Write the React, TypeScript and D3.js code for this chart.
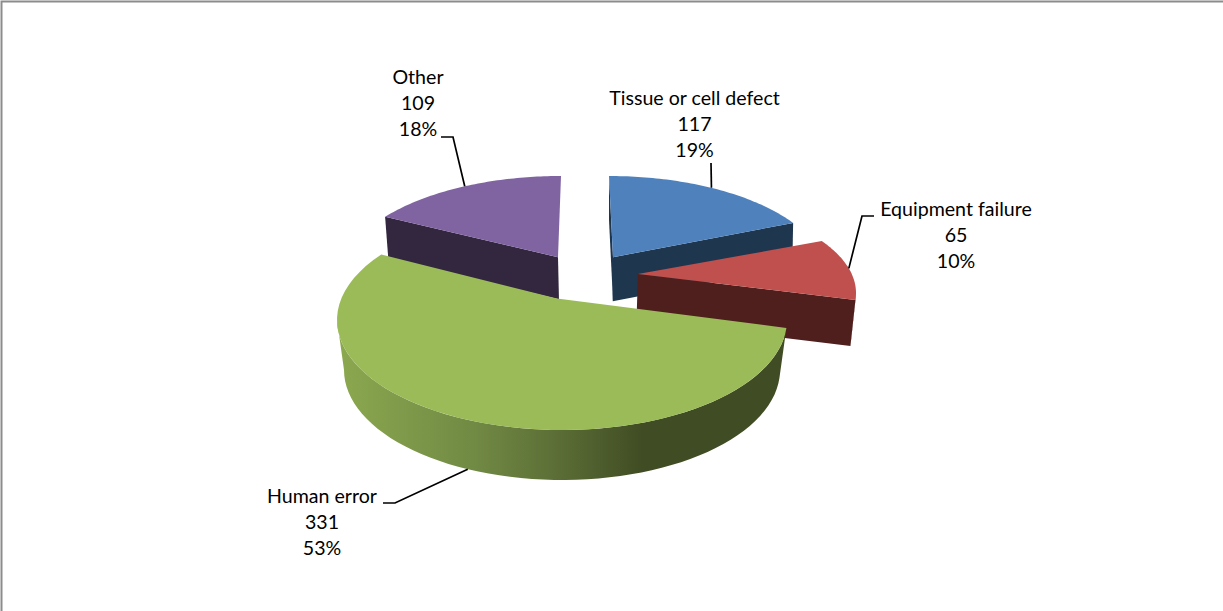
import React from "react";
import * as d3 from "d3";

// ---- data ----
const categories = ["Tissue or cell defect", "Equipment failure", "Human error", "Other"];
const counts = [117, 65, 331, 109];
const percents = ["19%", "10%", "53%", "18%"];

// ---- style / layout ----
const topColors = ["#4f81bd", "#c0504d", "#9bbb59", "#8064a2"];
const sideColors = ["#1f364f", "#4f1f1e", "#3d4d24", "#33263f"];
const FONT = "Lato, 'Open Sans', sans-serif";
const PERSPECTIVE = 0.82; // squeezes near/far angles like a tilted disc

type Slice = { cx: number; cy: number; rx: number; ry: number; apexDx: number; depth: number; shrink: number };
const sliceLayout: Slice[] = [
  { cx: 609, cy: 277, rx: 218, ry: 101, apexDx: 4, depth: 44, shrink: 1 },
  { cx: 636, cy: 293, rx: 220, ry: 97, apexDx: 2, depth: 46, shrink: 5 },
  { cx: 562, cy: 320, rx: 225, ry: 110, apexDx: -5, depth: 50, shrink: 7 },
  { cx: 561, cy: 277, rx: 219, ry: 101, apexDx: -3, depth: 42, shrink: 4 },
];
const labelAnchors = [
  { x: 694.5, y: 105, hook: [711, 163] },
  { x: 956, y: 216, hook: [874, 216, 862, 216] },
  { x: 322, y: 503, hook: [383, 503, 395, 503] },
  { x: 418, y: 84, hook: [441, 137, 453, 137] },
];
const LINE_H = 26;
const FONT_SIZE = 19.6;

const arcs = d3.pie<number>().sort(null).startAngle(0).endAngle(2 * Math.PI)(counts);

// data angle (clockwise from 12 o'clock) -> angle parameter on the drawn ellipse
const warp = (a: number) => {
  const turns = Math.floor((a + Math.PI) / (2 * Math.PI));
  const r = a - turns * 2 * Math.PI;
  return 2 * Math.atan(PERSPECTIVE * Math.tan(r / 2)) + turns * 2 * Math.PI;
};
const rim = (s: Slice, phi: number, low = false): [number, number] => {
  const rx = low ? s.rx - s.shrink : s.rx;
  return [s.cx + rx * Math.sin(phi), s.cy + (low ? s.depth : 0) - s.ry * Math.cos(phi)];
};
const apex = (s: Slice): [number, number] => {
  const c2 = PERSPECTIVE * PERSPECTIVE;
  return [s.cx + s.apexDx, s.cy - (s.ry * (1 - c2)) / (1 + c2)];
};
const sweep = (s: Slice, a0: number, a1: number, low = false) =>
  d3.range(0, 61).map((i) => rim(s, a0 + ((a1 - a0) * i) / 60, low));
const line = d3.line();

const topFace = (i: number) => {
  const s = sliceLayout[i];
  const phi0 = warp(arcs[i].startAngle);
  const phi1 = warp(arcs[i].endAngle);
  return line([apex(s), ...sweep(s, phi0, phi1)])! + "Z";
};
// a straight cut face from rim corner to the apex, extruded downward
const cutFace = (i: number, angle: number) => {
  const s = sliceLayout[i];
  const p = rim(s, warp(angle));
  const q = rim(s, warp(angle), true);
  const a = apex(s);
  return line([p, a, [a[0] + (q[0] - p[0]) * 0.3, a[1] + s.depth], q])! + "Z";
};
const outerWall = (i: number, from: number, to: number) => {
  const s = sliceLayout[i];
  return line([...sweep(s, from, to), ...sweep(s, to, from, true)])! + "Z";
};

const leaderPath = (i: number) => {
  const s = sliceLayout[i];
  const mid = warp((arcs[i].startAngle + arcs[i].endAngle) / 2);
  const isFront = Math.cos(mid) < 0;
  const end = rim(s, mid, isFront);
  const h = labelAnchors[i].hook;
  const pts: [number, number][] = [];
  for (let k = 0; k < h.length; k += 2) pts.push([h[k], h[k + 1]]);
  return line([...pts, end])!;
};

export default function App() {
  const humanPhi1 = warp(arcs[2].startAngle);
  return (
    <svg width={1223} height={611} style={{ position: "absolute", left: 0, top: 0, display: "block", background: "#fff" }}>
      <defs>
        <linearGradient id="wall" gradientUnits="userSpaceOnUse" x1={340} x2={785} y1={0} y2={0}>
          <stop offset="0" stopColor="#8ba84f" />
          <stop offset="0.3" stopColor="#718a44" />
          <stop offset="0.5" stopColor="#5a6c35" />
          <stop offset="0.68" stopColor="#404c23" />
          <stop offset="1" stopColor="#404c23" />
        </linearGradient>
      </defs>
      <path d="M1.5 611V1.5H1223" fill="none" stroke="#8c8c8c" strokeWidth={2} />

      {/* Other */}
      <path d={cutFace(3, arcs[3].startAngle)} fill={sideColors[3]} />
      <path d={topFace(3)} fill={topColors[3]} />

      {/* Tissue */}
      <path d={cutFace(0, arcs[0].endAngle)} fill={sideColors[0]} />
      <path d={cutFace(0, arcs[0].startAngle)} fill={sideColors[0]} />
      <path d={topFace(0)} fill={topColors[0]} />

      {/* Equipment */}
      <path d={cutFace(1, arcs[1].endAngle)} fill={sideColors[1]} />
      <path d={outerWall(1, Math.PI / 2, warp(arcs[1].endAngle))} fill={sideColors[1]} />
      <path d={topFace(1)} fill={topColors[1]} />

      {/* Human error */}
      <path d={outerWall(2, humanPhi1, 1.5 * Math.PI)} fill="url(#wall)" />
      <path d={topFace(2)} fill={topColors[2]} />

      {categories.map((_, i) => (
        <path key={i} d={leaderPath(i)} fill="none" stroke="#000" strokeWidth={1.7} />
      ))}
      {categories.map((c, i) => (
        <text key={c} x={labelAnchors[i].x} y={labelAnchors[i].y} fontFamily={FONT} fontSize={FONT_SIZE} textAnchor="middle" fill="#000">
          <tspan x={labelAnchors[i].x}>{c}</tspan>
          <tspan x={labelAnchors[i].x} dy={LINE_H}>{counts[i]}</tspan>
          <tspan x={labelAnchors[i].x} dy={LINE_H}>{percents[i]}</tspan>
        </text>
      ))}
    </svg>
  );
}
